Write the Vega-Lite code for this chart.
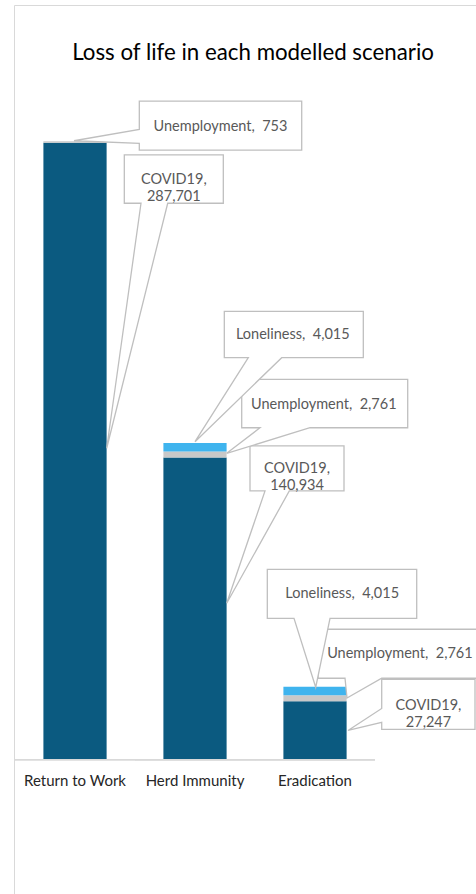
{
  "$schema": "https://vega.github.io/schema/vega-lite/v6.json",
  "autosize": {"type": "none"},
  "padding": {"left": 14, "top": 5, "right": -8, "bottom": -5},
  "width": 470,
  "height": 894,
  "background": "white",
  "config": {"view": {"stroke": "#d9d9d9", "strokeWidth": 1}, "font": "Lato"},
  "title": {
    "text": "Loss of life in each modelled scenario",
    "font": "Lato",
    "fontSize": 22.3,
    "fontWeight": "normal",
    "color": "#000000",
    "anchor": "middle",
    "baseline": "alphabetic",
    "offset": 0,
    "dy": 77.5,
    "dx": 4
  },
  "data": {
    "values": [
      {"scenario": "Return to Work", "series": "COVID19", "deaths": 287701, "ord": 1, "id": "rtw_c", "label": "COVID19, 287,701"},
      {"scenario": "Herd Immunity", "series": "COVID19", "deaths": 140934, "ord": 1, "id": "herd_c", "label": "COVID19, 140,934"},
      {"scenario": "Eradication", "series": "COVID19", "deaths": 27247, "ord": 1, "id": "erad_c", "label": "COVID19, 27,247"},
      {"scenario": "Return to Work", "series": "Unemployment", "deaths": 753, "ord": 2, "id": "rtw_u", "label": "Unemployment,\u00a0 753"},
      {"scenario": "Herd Immunity", "series": "Unemployment", "deaths": 2761, "ord": 2, "id": "herd_u", "label": "Unemployment,\u00a0 2,761"},
      {"scenario": "Eradication", "series": "Unemployment", "deaths": 2761, "ord": 2, "id": "erad_u", "label": "Unemployment,\u00a0 2,761"},
      {"scenario": "Herd Immunity", "series": "Loneliness", "deaths": 4015, "ord": 3, "id": "herd_l", "label": "Loneliness,\u00a0 4,015"},
      {"scenario": "Eradication", "series": "Loneliness", "deaths": 4015, "ord": 3, "id": "erad_l", "label": "Loneliness,\u00a0 4,015"}
    ]
  },
  "encoding": {
    "x": {
      "field": "scenario",
      "type": "nominal",
      "sort": ["Return to Work", "Herd Immunity", "Eradication"],
      "scale": {"paddingInner": 0.4733, "paddingOuter": 0.695, "align": 0.1763, "round": false},
      "axis": {
        "orient": "bottom",
        "offset": -139.35,
        "domain": false,
        "ticks": false,
        "tickSize": 0,
        "grid": false,
        "labelPadding": 14,
        "labelAngle": 0,
        "labelFont": "Lato",
        "labelFontSize": 15,
        "labelColor": "#262626",
        "title": null
      }
    }
  },
  "layer": [
    {
      "mark": {"type": "bar"},
      "encoding": {
        "y": {"field": "deaths", "type": "quantitative", "stack": "zero", "scale": {"domain": [-65000, 352000], "nice": false, "zero": false}, "axis": null},
        "color": {"field": "series", "type": "nominal", "scale": {"domain": ["COVID19", "Unemployment", "Loneliness"], "range": ["#0b5a80", "#c8c8c8", "#3fb4ee"]}, "legend": null},
        "order": {"field": "ord", "type": "quantitative"}
      }
    },
    {
      "mark": {"type": "tick", "color": "#d9d9d9", "size": 120, "thickness": 1.5, "opacity": 1},
      "encoding": {"y": {"datum": 0, "type": "quantitative"}}
    },
    {
      "mark": {"type": "point", "filled": true, "fill": "#ffffff", "stroke": "#bfbfbf", "strokeWidth": 1.3, "opacity": 1, "size": 4, "clip": true},
      "encoding": {
        "y": {"field": "deaths", "type": "quantitative", "stack": "zero", "bandPosition": 0.5},
        "order": {"field": "ord", "type": "quantitative"},
        "detail": {"field": "id", "type": "nominal"},
        "shape": {
          "field": "id",
          "type": "nominal",
          "legend": null,
          "scale": {
            "domain": ["rtw_c", "herd_c", "erad_c", "rtw_u", "herd_u", "erad_u", "herd_l", "erad_l"],
            "range": [
              "M31.7,-3L66,-248L49.3,-248L49.3,-296.3L148.3,-296.3L148.3,-248L92.7,-248Z",
              "M31.7,-5.3L70,-117.6L55,-117.6L55,-162.6L149,-162.6L149,-117.6L94.3,-117.6Z",
              "M33,0L66.7,-22L66.7,-51.1L160,-51.1L160,-1.1L66.7,-1.1L66.7,-8Z",
              "M-1,-1.3L64.3,-12.7L64.3,-41L226.7,-41L226.7,8L64.3,8L64.3,1.3Z",
              "M31.7,-1.2L65,-26.8L46.7,-26.8L46.7,-75.2L212.7,-75.2L212.7,-26.8L115,-26.8Z",
              "M32,-0.3L30,-20L3,-20L3,-69L169,-69L169,-20L66.7,-20Z",
              "M0,-5.6L53.3,-89.6L29.3,-89.6L29.3,-136L168.3,-136L168.3,-89.6L86.7,-89.6Z",
              "M0.7,-3.7L-21,-72.7L-47.7,-72.7L-47.7,-121.7L101.7,-121.7L101.7,-72.7L15,-72.7Z"
            ]
          }
        }
      }
    },
    {
      "mark": {"type": "text", "clip": true, "dx": 98.8, "dy": -270.8, "font": "Lato", "fontSize": 14.5, "color": "#595959", "align": "center", "baseline": "middle", "lineBreak": " ", "lineHeight": 17},
      "encoding": {
        "y": {"field": "deaths", "type": "quantitative", "stack": "zero", "bandPosition": 0.5},
        "order": {"field": "ord", "type": "quantitative"},
        "detail": {"field": "id", "type": "nominal"},
        "text": {"condition": {"test": "datum.id === 'rtw_c'", "field": "label", "type": "nominal"}, "value": ""}
      }
    },
    {
      "mark": {"type": "text", "clip": true, "dx": 102, "dy": -139.6, "font": "Lato", "fontSize": 14.5, "color": "#595959", "align": "center", "baseline": "middle", "lineBreak": " ", "lineHeight": 17},
      "encoding": {
        "y": {"field": "deaths", "type": "quantitative", "stack": "zero", "bandPosition": 0.5},
        "order": {"field": "ord", "type": "quantitative"},
        "detail": {"field": "id", "type": "nominal"},
        "text": {"condition": {"test": "datum.id === 'herd_c'", "field": "label", "type": "nominal"}, "value": ""}
      }
    },
    {
      "mark": {"type": "text", "clip": true, "dx": 113.5, "dy": -24.1, "font": "Lato", "fontSize": 14.5, "color": "#595959", "align": "center", "baseline": "middle", "lineBreak": " ", "lineHeight": 17},
      "encoding": {
        "y": {"field": "deaths", "type": "quantitative", "stack": "zero", "bandPosition": 0.5},
        "order": {"field": "ord", "type": "quantitative"},
        "detail": {"field": "id", "type": "nominal"},
        "text": {"condition": {"test": "datum.id === 'erad_c'", "field": "label", "type": "nominal"}, "value": ""}
      }
    },
    {
      "mark": {"type": "text", "clip": true, "dx": 145.5, "dy": -15, "font": "Lato", "fontSize": 14.5, "color": "#595959", "align": "center", "baseline": "middle"},
      "encoding": {
        "y": {"field": "deaths", "type": "quantitative", "stack": "zero", "bandPosition": 0.5},
        "order": {"field": "ord", "type": "quantitative"},
        "detail": {"field": "id", "type": "nominal"},
        "text": {"condition": {"test": "datum.id === 'rtw_u'", "field": "label", "type": "nominal"}, "value": ""}
      }
    },
    {
      "mark": {"type": "text", "clip": true, "dx": 128.8, "dy": -49.8, "font": "Lato", "fontSize": 14.5, "color": "#595959", "align": "center", "baseline": "middle"},
      "encoding": {
        "y": {"field": "deaths", "type": "quantitative", "stack": "zero", "bandPosition": 0.5},
        "order": {"field": "ord", "type": "quantitative"},
        "detail": {"field": "id", "type": "nominal"},
        "text": {"condition": {"test": "datum.id === 'herd_u'", "field": "label", "type": "nominal"}, "value": ""}
      }
    },
    {
      "mark": {"type": "text", "clip": true, "dx": 84.9, "dy": -44.6, "font": "Lato", "fontSize": 14.5, "color": "#595959", "align": "center", "baseline": "middle"},
      "encoding": {
        "y": {"field": "deaths", "type": "quantitative", "stack": "zero", "bandPosition": 0.5},
        "order": {"field": "ord", "type": "quantitative"},
        "detail": {"field": "id", "type": "nominal"},
        "text": {"condition": {"test": "datum.id === 'erad_u'", "field": "label", "type": "nominal"}, "value": ""}
      }
    },
    {
      "mark": {"type": "text", "clip": true, "dx": 97.8, "dy": -112, "font": "Lato", "fontSize": 14.5, "color": "#595959", "align": "center", "baseline": "middle"},
      "encoding": {
        "y": {"field": "deaths", "type": "quantitative", "stack": "zero", "bandPosition": 0.5},
        "order": {"field": "ord", "type": "quantitative"},
        "detail": {"field": "id", "type": "nominal"},
        "text": {"condition": {"test": "datum.id === 'herd_l'", "field": "label", "type": "nominal"}, "value": ""}
      }
    },
    {
      "mark": {"type": "text", "clip": true, "dx": 27.2, "dy": -96.7, "font": "Lato", "fontSize": 14.5, "color": "#595959", "align": "center", "baseline": "middle"},
      "encoding": {
        "y": {"field": "deaths", "type": "quantitative", "stack": "zero", "bandPosition": 0.5},
        "order": {"field": "ord", "type": "quantitative"},
        "detail": {"field": "id", "type": "nominal"},
        "text": {"condition": {"test": "datum.id === 'erad_l'", "field": "label", "type": "nominal"}, "value": ""}
      }
    }
  ]
}
